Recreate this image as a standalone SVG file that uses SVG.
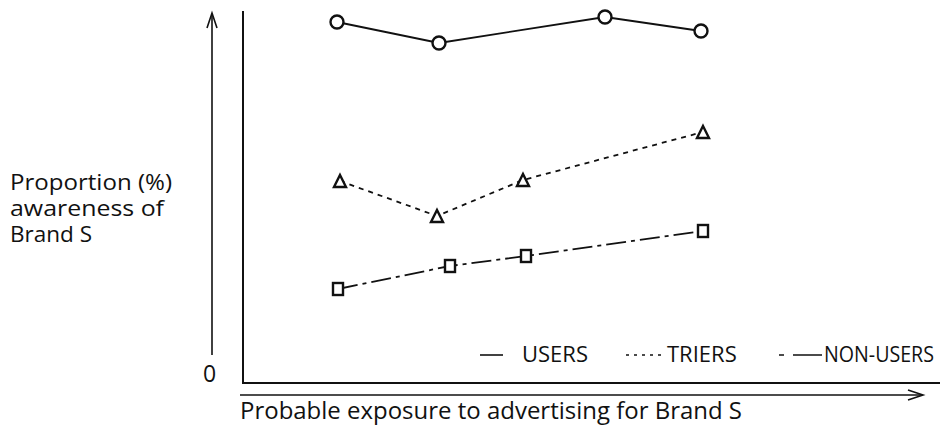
<svg xmlns="http://www.w3.org/2000/svg" width="943" height="430" viewBox="0 0 943 430">
  <style>
    text { font-family: "Open Sans", "Liberation Sans", sans-serif; font-size: 23px; fill: #111; }
    .ax { stroke: #111; stroke-width: 2; fill: none; }
    .thin { stroke: #111; stroke-width: 1.6; fill: none; }
    .users { stroke: #111; stroke-width: 1.8; fill: none; }
    .triers { stroke: #111; stroke-width: 1.8; fill: none; stroke-dasharray: 5 5; }
    .nonusers { stroke: #111; stroke-width: 1.8; fill: none; stroke-dasharray: 20 5 4 5; }
    .mk { stroke: #111; stroke-width: 2.4; fill: #fff; }
    .lg { font-size: 22px; }
    .yl { font-size: 21px; }
  </style>

  <!-- axes -->
  <g id="axes">
    <path class="ax" d="M243,11 V383 H940"/>
    <path class="thin" d="M212,355 V15"/>
    <path class="thin" d="M207,28 L212,13 L217,28"/>
    <path class="thin" d="M240,395 H922"/>
    <path class="thin" d="M908,390 L923,395 L908,400"/>
    <text x="203" y="382" font-size="22">0</text>
  </g>

  <!-- axis labels -->
  <g id="y-label">
    <text class="yl" x="10" y="190" textLength="162" lengthAdjust="spacingAndGlyphs">Proportion (%)</text>
    <text class="yl" x="10" y="216" textLength="154" lengthAdjust="spacingAndGlyphs">awareness of</text>
    <text class="yl" x="10" y="242" textLength="82" lengthAdjust="spacingAndGlyphs">Brand S</text>
  </g>
  <g id="x-label">
    <text x="240" y="419" textLength="502" lengthAdjust="spacingAndGlyphs">Probable exposure to advertising for Brand S</text>
  </g>

  <!-- connectors -->
  <g id="connectors">
    <polyline class="users" points="337,22 439,43 605,17 701,31"/>
    <polyline class="triers" points="340,181 437,216 523,180 703,132"/>
    <polyline class="nonusers" points="338,289 450,266 526,256 703,231"/>
  </g>

  <!-- users series -->
  <g id="users">
    <circle class="mk" cx="337" cy="22" r="6.5"/>
    <circle class="mk" cx="439" cy="43" r="6.5"/>
    <circle class="mk" cx="605" cy="17" r="6.5"/>
    <circle class="mk" cx="701" cy="31" r="6.5"/>
  </g>

  <!-- triers series -->
  <g id="triers">
    <polygon class="mk" points="340,175 346,187 334,187"/>
    <polygon class="mk" points="437,210 443,222 431,222"/>
    <polygon class="mk" points="523,174 529,186 517,186"/>
    <polygon class="mk" points="703,126 709,138 697,138"/>
  </g>

  <!-- non-users series -->
  <g id="non-users">
    <rect class="mk" x="333" y="283" width="10" height="12"/>
    <rect class="mk" x="445" y="260" width="10" height="12"/>
    <rect class="mk" x="521" y="250" width="10" height="12"/>
    <rect class="mk" x="698" y="225" width="10" height="12"/>
  </g>

  <!-- legend -->
  <g id="legend">
    <path class="thin" d="M480,355 H503"/>
    <text class="lg" x="522" y="362">USERS</text>
    <path class="thin" d="M626,355 H665" stroke-dasharray="3 5"/>
    <text class="lg" x="667" y="362">TRIERS</text>
    <path class="thin" d="M779,355 H784 M793,355 H822"/>
    <text class="lg" x="824" y="362" textLength="110" lengthAdjust="spacingAndGlyphs">NON-USERS</text>
  </g>
</svg>
